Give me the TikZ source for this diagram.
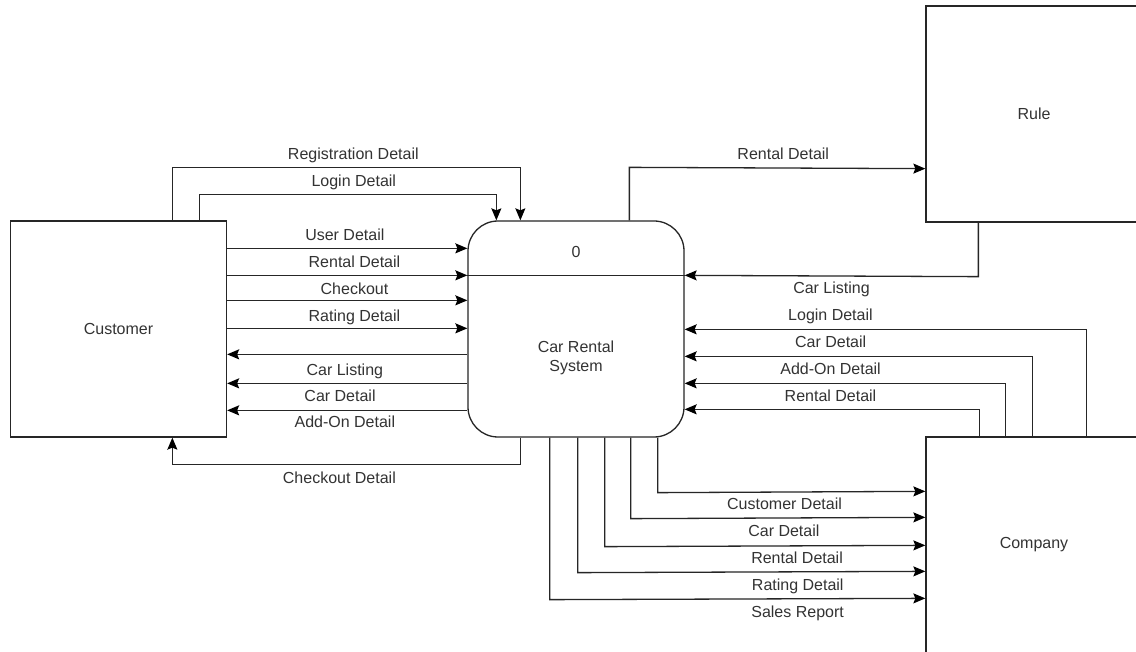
\documentclass[tikz,border=0pt]{standalone}
\usepackage{fontspec}
\setmainfont{Liberation Sans}
\usetikzlibrary{arrows.meta,calc}
\begin{document}
\begin{tikzpicture}[x=1pt,y=-1pt,
  txt/.style={font=\fontsize{16}{19}\selectfont, text=black!80},
  box/.style={draw=black!85, line width=1.3pt, minimum width=216pt, minimum height=216pt, inner sep=0pt, txt},
  flow/.style={draw=black!85, line width=1.3pt, -{Stealth[length=12pt,width=10pt,inset=2pt,black]}},
  lbl/.style={txt, inner sep=0pt, text height=11.5pt, text depth=0pt, anchor=center}]
\useasboundingbox (0,0) rectangle (1136,652);
\clip (0,0) rectangle (1136,652);
\fill[white] (0,0) rectangle (1136,652);
% entities and process
\node[box] (cust) at (118.5,329) {Customer};
\node[box, rounded corners=30pt] (proc) at (576,329) {};
\node[txt] (pid) at (576,251.5) {0};
\node[txt, align=center] (pname) at (576,358) {Car Rental\\System};
\node[box] (rule) at (1034,114) {Rule};
\node[box] (comp) at (1034,545) {Company};
\draw[draw=black!85, line width=1.3pt] ($(proc.north west)+(0,55)$) -- ($(proc.north east)+(0,55)$);
% customer -> process (top)
\draw[flow] ($(cust.north west)+(162.5,0)$) -- ++(0,-53)
  -- node[lbl, pos=0.52, yshift=14pt]{Registration Detail} ($(proc.north west)+(53,-53)$)
  -- ($(proc.north west)+(53,0)$);
\draw[flow] ($(cust.north west)+(189.5,0)$) -- ++(0,-26)
  -- node[lbl, pos=0.52, yshift=14pt]{Login Detail} ($(proc.north west)+(29,-26)$)
  -- ($(proc.north west)+(29,0)$);
% customer -> process (side)
\draw[flow] ($(cust.north east)+(0,28)$) -- node[lbl, pos=0.49, yshift=14pt]{User Detail} ($(proc.north west)+(0,28)$);
\draw[flow] ($(cust.north east)+(0,55)$) -- node[lbl, pos=0.53, yshift=14pt]{Rental Detail} ($(proc.north west)+(0,55)$);
\draw[flow] ($(cust.north east)+(0,80)$) -- node[lbl, pos=0.53, yshift=12pt]{Checkout} ($(proc.north west)+(0,80)$);
\draw[flow] ($(cust.north east)+(0,108)$) -- node[lbl, pos=0.53, yshift=13pt]{Rating Detail} ($(proc.north west)+(0,108)$);
% process -> customer
\draw[flow] ($(proc.north west)+(0,134)$) -- node[lbl, pos=0.51, yshift=-15pt]{Car Listing} ($(cust.north east)+(0,134)$);
\draw[flow] ($(proc.north west)+(0,163)$) -- node[lbl, pos=0.53, yshift=-12pt]{Car Detail} ($(cust.north east)+(0,163)$);
\draw[flow] ($(proc.north west)+(0,190)$) -- node[lbl, pos=0.51, yshift=-11pt]{Add-On Detail} ($(cust.north east)+(0,190)$);
\draw[flow] ($(proc.south west)+(53,0)$) -- ++(0,27)
  -- node[lbl, pos=0.52, yshift=-13pt]{Checkout Detail} ($(cust.south west)+(162.5,27)$)
  -- ($(cust.south west)+(162.5,0)$);
% process <-> rule
\draw[flow] ($(proc.north west)+(162,0)$) -- ++(0,-53)
  -- node[lbl, pos=0.52, yshift=14pt]{Rental Detail} ($(rule.south west)+(0,-54)$);
\draw[flow] ($(rule.south west)+(53,0)$) -- ++(0,54)
  -- node[lbl, pos=0.50, yshift=-12pt]{Car Listing} ($(proc.north east)+(0,55)$);
% company -> process
\draw[flow] ($(comp.north west)+(161,0)$) -- ++(0,-107)
  -- node[lbl, pos=0.637, yshift=15pt]{Login Detail} ($(proc.north east)+(0,109)$);
\draw[flow] ($(comp.north west)+(107,0)$) -- ++(0,-80)
  -- node[lbl, pos=0.58, yshift=15pt]{Car Detail} ($(proc.north east)+(0,136)$);
\draw[flow] ($(comp.north west)+(80,0)$) -- ++(0,-53)
  -- node[lbl, pos=0.545, yshift=15pt]{Add-On Detail} ($(proc.north east)+(0,163)$);
\draw[flow] ($(comp.north west)+(54,0)$) -- ++(0,-27)
  -- node[lbl, pos=0.505, yshift=14pt]{Rental Detail} ($(proc.north east)+(0,189)$);
% process -> company
\draw[flow] ($(proc.south east)+(-27,0)$) -- ++(0,55)
  -- node[lbl, pos=0.474, yshift=-12pt]{Customer Detail} ($(comp.north west)+(0,55)$);
\draw[flow] ($(proc.south east)+(-54,0)$) -- ++(0,81)
  -- node[lbl, pos=0.52, yshift=-13pt]{Car Detail} ($(comp.north west)+(0,81)$);
\draw[flow] ($(proc.south east)+(-80,0)$) -- ++(0,109)
  -- node[lbl, pos=0.60, yshift=-12pt]{Rental Detail} ($(comp.north west)+(0,109)$);
\draw[flow] ($(proc.south east)+(-107,0)$) -- ++(0,135)
  -- node[lbl, pos=0.633, yshift=-13pt]{Rating Detail} ($(comp.north west)+(0,135)$);
\draw[flow] ($(proc.south east)+(-135,0)$) -- ++(0,162)
  -- node[lbl, pos=0.66, yshift=-13pt]{Sales Report} ($(comp.north west)+(0,162)$);
\end{tikzpicture}
\end{document}
